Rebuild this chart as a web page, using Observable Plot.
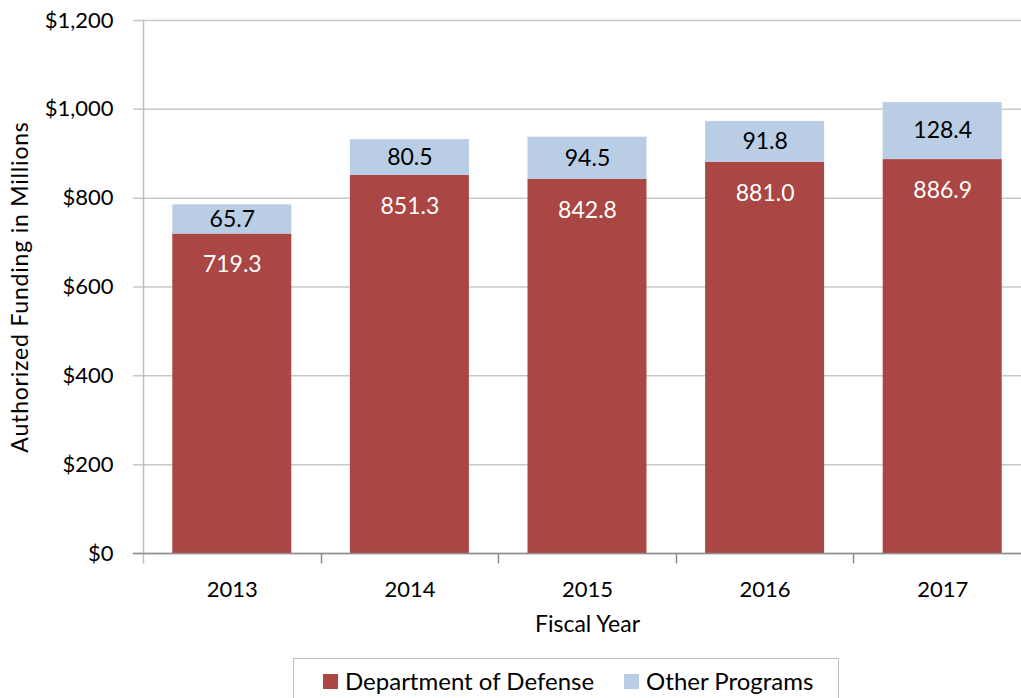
<!DOCTYPE html>
<html><head><meta charset="utf-8">
<script src="https://cdn.jsdelivr.net/npm/d3@7"></script>
<script src="https://cdn.jsdelivr.net/npm/@observablehq/plot@0.6"></script>
<style>
body{margin:0;background:#fff;font-family:Lato,"Noto Sans",sans-serif;}
#wrap{position:relative;width:1021px;height:698px;overflow:hidden;background:#fff;}
#wrap svg{display:block;}
#legend{position:absolute;left:293px;top:658px;width:546px;height:50px;border:1px solid #bfbfbf;box-sizing:border-box;
  display:flex;flex-wrap:nowrap;align-items:flex-start;padding:9px 0 0 29px;font-size:24px;line-height:26px;color:#000;white-space:nowrap;}
#legend .item{display:flex;align-items:center;margin-right:30px;flex-shrink:0;white-space:nowrap;}
#legend .sw{width:15px;height:15px;margin-right:7px;flex-shrink:0;}
</style></head><body><div id="wrap"></div>
<script>
const years = ["2013","2014","2015","2016","2017"];
const dod = [719.3, 851.3, 842.8, 881.0, 886.9];
const other = [65.7, 80.5, 94.5, 91.8, 128.4];
const seriesNames = ["Department of Defense", "Other Programs"];
const seriesColors = ["#AA4643", "#B9CDE5"];
const yTicks = [0, 200, 400, 600, 800, 1000, 1200];
const yLabel = "Authorized Funding in Millions";
const xLabel = "Fiscal Year";

const rows = [];
years.forEach((yr, i) => {
  rows.push({year: yr, series: seriesNames[0], value: dod[i]});
  rows.push({year: yr, series: seriesNames[1], value: other[i]});
});
const dodLabels = years.map((yr, i) => ({year: yr, y: dod[i], text: dod[i].toFixed(1)}));
const otherLabels = years.map((yr, i) => ({year: yr, y: dod[i] + other[i] / 2, text: other[i].toFixed(1)}));

function axisLines(index, scales, values, dims) {
  const x = scales.x, y = scales.y;
  const bw = x.bandwidth(), step = x.step();
  const bounds = years.map(d => x(d) + bw / 2 - step / 2);
  bounds.push(x(years[years.length - 1]) + bw / 2 + step / 2);
  const y0 = Math.round(y(0)) + 0.5;
  const g = d3.create("svg:g");
  g.append("line").attr("x1", Math.round(bounds[0]) + 0.5).attr("x2", Math.round(bounds[0]) + 0.5)
    .attr("y1", y(yTicks[yTicks.length - 1])).attr("y2", y0 + 10).attr("stroke", "#bfbfbf").attr("stroke-width", 1.5);
  g.selectAll("line.t").data(bounds.slice(1)).join("line").attr("class", "t")
    .attr("x1", d => Math.round(d) + 0.5).attr("x2", d => Math.round(d) + 0.5)
    .attr("y1", y0).attr("y2", y0 + 10).attr("stroke", "#8c8c8c").attr("stroke-width", 1.5);
  g.append("line").attr("x1", dims.marginLeft).attr("x2", dims.width)
    .attr("y1", y0).attr("y2", y0).attr("stroke", "#8c8c8c").attr("stroke-width", 1.5);
  return g.node();
}

const chart = Plot.plot({
  width: 1021,
  height: 650,
  marginTop: 20,
  marginBottom: 97,
  marginLeft: 133,
  marginRight: 0,
  style: {fontFamily: "Lato, 'Noto Sans', sans-serif", background: "#fff", color: "#000"},
  x: {domain: years, range: [143, 1031], paddingInner: 0.33, paddingOuter: 0.165, round: false, label: null},
  y: {domain: [0, 1200], label: null},
  color: {domain: seriesNames, range: seriesColors},
  marks: [
    Plot.ruleY(yTicks, {stroke: "#c8c8c8", strokeWidth: 1.5}),
    Plot.barY(rows, Plot.stackY({x: "year", y: "value", fill: "series", order: null})),
    axisLines,
    Plot.text(dodLabels, {x: "year", y: "y", text: "text", dy: 31, fill: "#fff", fontSize: 23}),
    Plot.text(otherLabels, {x: "year", y: "y", text: "text", fill: "#000", fontSize: 23}),
    Plot.axisY({ticks: yTicks, tickSize: 0, tickPadding: 20, fontSize: 22,
      tickFormat: d => "$" + d3.format(",")(d), label: null}),
    Plot.axisX({tickSize: 0, tickPadding: 28, fontSize: 22, label: null}),
    Plot.text([yLabel], {frameAnchor: "left", rotate: -90, dx: -113, textAnchor: "middle", fontSize: 23, text: d => d}),
    Plot.text([xLabel], {frameAnchor: "bottom", dx: 10, dy: 78, fontSize: 23, text: d => d})
  ]
});

const wrap = document.getElementById("wrap");
wrap.appendChild(chart);
chart.querySelectorAll("text").forEach(t => {
  if (t.textContent === yLabel) t.setAttribute("letter-spacing", "0.8");
});
const legend = document.createElement("div");
legend.id = "legend";
seriesNames.forEach((name, i) => {
  const it = document.createElement("div");
  it.className = "item";
  const sw = document.createElement("span");
  sw.className = "sw";
  sw.style.background = seriesColors[i];
  const tx = document.createElement("span");
  tx.textContent = name;
  it.appendChild(sw); it.appendChild(tx);
  legend.appendChild(it);
});
wrap.appendChild(legend);
</script></body></html>
